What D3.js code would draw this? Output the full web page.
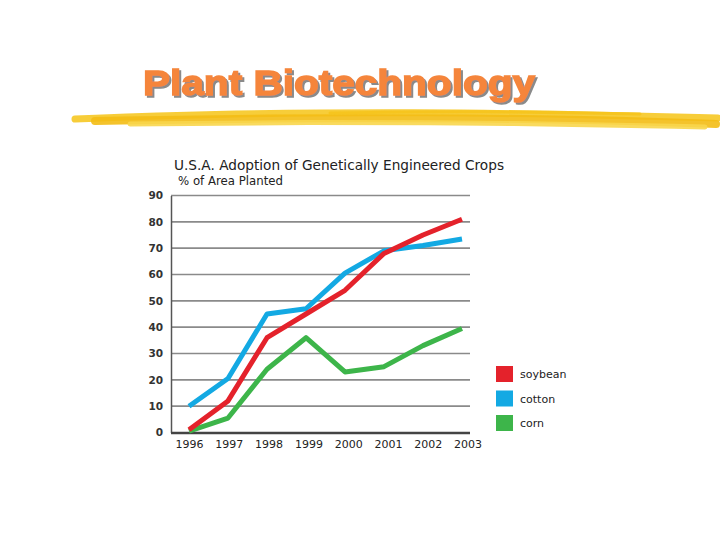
<!DOCTYPE html>
<html lang="en">
<head>
  <meta charset="UTF-8">
  <title>Plant Biotechnology</title>
  <style>
    body { margin: 0; background: #fff; }
    svg { display: block; }
  </style>
</head>
<body>
  <svg id="chart" width="720" height="540"></svg>

  <script src="https://d3js.org/d3.v7.min.js"></script>
  <script>
    // values (% of area planted)
    const years = [1996, 1997, 1998, 1999, 2000, 2001, 2002, 2003];
    const soybean = [1, 12, 36, 45, 54, 68, 75, 81];
    const cotton = [10, 20.5, 45, 47, 60.5, 69, 71, 73.5];
    const corn = [0.5, 5.5, 24, 36, 23, 25, 33, 39.5];
    const yTicks = [0, 10, 20, 30, 40, 50, 60, 70, 80, 90];
    const seriesNames = ["soybean", "cotton", "corn"];
    const seriesColors = ["#e4222b", "#13a9e3", "#3db54a"];

    const svg = d3.select("#chart");

    const defs = svg.append("defs");
    const shadow = defs.append("filter").attr("id", "shadow")
      .attr("x", "-5%").attr("y", "-20%").attr("width", "110%").attr("height", "140%");
    shadow.append("feDropShadow")
      .attr("dx", 2).attr("dy", 2).attr("stdDeviation", 0.6)
      .attr("flood-color", "#8a8a8a").attr("flood-opacity", 1);

    // decorative brush stroke under the heading
    const brush = svg.append("g");
    const strokes = [
      { pts: [[75, 119], [200, 114], [420, 112], [600, 115], [718, 118]], w: 7, c: "#f6c823" },
      { pts: [[95, 121], [260, 118], [480, 118], [640, 121], [716, 124]], w: 8, c: "#f3bd15" },
      { pts: [[130, 124], [300, 122], [520, 123], [705, 127]], w: 5, c: "#f8d64c" },
      { pts: [[330, 113], [480, 111], [640, 114]], w: 3, c: "#f5c41d" }
    ];
    const lineGen = d3.line().curve(d3.curveBasis);
    strokes.forEach(s => {
      brush.append("path")
        .attr("d", lineGen(s.pts))
        .attr("fill", "none")
        .attr("stroke", s.c)
        .attr("stroke-width", s.w)
        .attr("stroke-linecap", "round")
        .attr("opacity", 0.9);
    });

    // heading with shadow
    svg.append("text")
      .attr("x", 143).attr("y", 95)
      .attr("textLength", 392).attr("lengthAdjust", "spacingAndGlyphs")
      .attr("filter", "url(#shadow)")
      .style("font-family", "'Liberation Sans', Arial, sans-serif")
      .style("font-weight", "bold")
      .style("font-size", "35px")
      .style("fill", "#f5853b")
      .style("stroke", "#f5853b")
      .style("stroke-width", 1.4)
      .text("Plant Biotechnology");

    // chart titles
    svg.append("text")
      .attr("x", 174).attr("y", 170)
      .style("font-family", "'DejaVu Sans', sans-serif")
      .style("font-size", "14px")
      .style("fill", "#222")
      .attr("textLength", 330).attr("lengthAdjust", "spacingAndGlyphs")
      .text("U.S.A. Adoption of Genetically Engineered Crops");
    svg.append("text")
      .attr("x", 178).attr("y", 185)
      .style("font-family", "'DejaVu Sans', sans-serif")
      .style("font-size", "12px")
      .style("fill", "#222")
      .attr("textLength", 105).attr("lengthAdjust", "spacingAndGlyphs")
      .text("% of Area Planted");

    // scales
    const xScale = d3.scaleLinear().domain([1996, 2003]).range([189, 462]);
    const yScale = d3.scaleLinear().domain([0, 90]).range([432.5, 195.5]);

    // gridlines
    svg.append("g")
      .selectAll("line")
      .data(yTicks.filter(d => d > 0))
      .enter()
      .append("line")
      .attr("x1", 171).attr("x2", 470)
      .attr("y1", d => yScale(d)).attr("y2", d => yScale(d))
      .attr("stroke", "#8a8a8a")
      .attr("stroke-width", 1.6);

    // y axis
    const yAxis = svg.append("g")
      .attr("transform", "translate(171,0)")
      .call(d3.axisLeft(yScale).tickValues(yTicks).tickSize(0).tickPadding(8));
    yAxis.select(".domain").attr("stroke", "#555").attr("stroke-width", 1.5);
    yAxis.selectAll("text")
      .style("font-family", "'DejaVu Sans', sans-serif")
      .style("font-size", "10.5px")
      .style("font-weight", "bold")
      .style("fill", "#333");

    // x axis
    const xAxis = svg.append("g")
      .attr("transform", "translate(0,433)")
      .call(d3.axisBottom(xScale).tickValues(years).tickFormat(d3.format("d")).tickSize(0).tickPadding(7));
    xAxis.select(".domain").remove();
    xAxis.append("line")
      .attr("x1", 171).attr("x2", 470)
      .attr("stroke", "#444").attr("stroke-width", 2.5);
    xAxis.selectAll("text")
      .attr("dx", (d, i) => i * 0.8)
      .style("font-family", "'DejaVu Sans', sans-serif")
      .style("font-size", "11px")
      .style("fill", "#222");

    // lines (soybean drawn above cotton, corn below)
    const series = [
      { name: "corn", values: corn, color: seriesColors[2] },
      { name: "cotton", values: cotton, color: seriesColors[1] },
      { name: "soybean", values: soybean, color: seriesColors[0] }
    ];
    const line = d3.line()
      .x((d, i) => xScale(years[i]))
      .y(d => yScale(d));
    svg.append("g")
      .selectAll("path")
      .data(series)
      .enter()
      .append("path")
      .attr("d", d => line(d.values))
      .attr("fill", "none")
      .attr("stroke", d => d.color)
      .attr("stroke-width", 5)
      .attr("stroke-linejoin", "round");

    // legend
    const legend = svg.append("g").attr("transform", "translate(496,366)");
    const items = legend.selectAll("g")
      .data(seriesNames)
      .enter()
      .append("g")
      .attr("transform", (d, i) => `translate(0, ${i * 24.5})`);
    items.append("rect")
      .attr("width", 17).attr("height", 16)
      .attr("fill", (d, i) => seriesColors[i]);
    items.append("text")
      .attr("x", 24).attr("y", 12)
      .style("font-family", "'DejaVu Sans', sans-serif")
      .style("font-size", "11px")
      .style("fill", "#222")
      .text(d => d);
  </script>
</body>
</html>
